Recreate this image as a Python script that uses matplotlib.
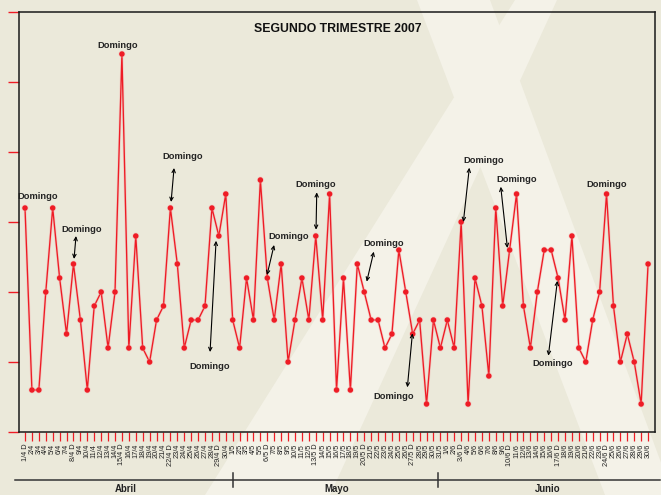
import matplotlib
matplotlib.use('Agg')
import matplotlib.pyplot as plt
from matplotlib.patches import Polygon
from matplotlib.transforms import blended_transform_factory
import matplotlib.patheffects as pe

plt.rcParams['font.family'] = ['Liberation Sans', 'DejaVu Sans']

# ---------------- data ----------------
months = ["Abril", "Mayo", "Junio"]
month_num = [4, 5, 6]
month_len = [30, 31, 30]
sunday_mark = " D"

abril = [16, 3, 3, 10, 16, 11, 7, 12, 8, 3, 9, 10, 6, 10, 27, 6, 14, 6, 5, 8,
         9, 16, 12, 6, 8, 8, 9, 16, 14, 17]
mayo = [8, 6, 11, 8, 18, 11, 8, 12, 5, 8, 11, 8, 14, 8, 17, 3, 11, 3, 12, 10,
        8, 8, 6, 7, 13, 10, 7, 8, 2, 8, 6]
junio = [8, 6, 15, 2, 11, 9, 4, 16, 9, 13, 17, 9, 6, 10, 13, 13, 11, 8, 14, 6,
         5, 8, 10, 17, 9, 5, 7, 5, 2, 12]
values = abril + mayo + junio

# tick labels (1 April 2007 was a Sunday)
labels = []
k = 0
for m, n in zip(month_num, month_len):
    for d in range(1, n + 1):
        lab = f"{d}/{m}"
        if k % 7 == 0:
            lab += sunday_mark
        labels.append(lab)
        k += 1

title = "SEGUNDO TRIMESTRE 2007"
note = "Domingo"
# annotation layout: (day index, text offset dx, dy, arrow tail offset, arrow head offset)
ann_layout = [
    (0, 1.88, 0.79, None, None),
    (7, 1.24, 2.5, (0.37, 2.0), (0.08, 0.36)),
    (14, -0.56, 0.64, None, None),
    (21, 1.83, 3.71, (0.53, 2.86), (0.1, 0.43)),
    (28, -1.27, -9.29, (-1.27, -8.29), (-0.4, -0.34)),
    (35, 3.1, 2.93, (0.98, 2.36), (-0.04, 0.21)),
    (42, -0.01, 3.71, (0.14, 3.12), (0.04, 0.45)),
    (49, 2.76, 3.43, (1.38, 2.88), (0.36, 0.74)),
    (56, -2.69, -4.48, (-0.77, -3.81), (-0.04, 0.05)),
    (63, 3.21, 4.36, (1.18, 3.88), (0.32, 0.0)),
    (70, 1.03, 5.07, (-1.28, 4.52), (-0.32, 0.14)),
    (77, -0.82, -6.1, (-1.4, -5.55), (-0.1, -0.2)),
    (84, 0.02, 0.66, None, None),
]

# ---------------- figure ----------------
W, H = 661, 495
bg = '#EBE9DA'
light = '#F4F2E8'
fig = plt.figure(figsize=(W / 100, H / 100), dpi=100, facecolor=bg)

def fpt(x, y):
    return (x / W, 1 - y / H)

bands = [
    [(417, 0), (490, 0), (673, 495), (605, 495)],
    [(515, 0), (557, 0), (330, 495), (205, 495)],
]
for b in bands:
    p = Polygon([fpt(*q) for q in b], closed=True, transform=fig.transFigure,
                facecolor=light, edgecolor='none', zorder=-5)
    fig.add_artist(p)

ax = fig.add_axes([19 / W, (H - 432) / H, 636 / W, 420 / H])
ax.set_facecolor('none')

x = list(range(len(values)))
red = '#EE1C25'
ax.plot(x, values, color=red, lw=0.95, marker='o', ms=2.9, mec=red, mfc=red,
        path_effects=[pe.Stroke(linewidth=2.0, foreground='#F4A8A8', alpha=0.45), pe.Normal()],
        zorder=3)

ax.set_xlim(-0.867, 91.0)
ax.set_ylim(0, 30)
ax.set_yticks(range(0, 31, 5))
ax.tick_params(axis='y', color=red, length=8, width=1, direction='out', labelleft=False)
ax.set_xticks(x)
ax.set_xticklabels(labels, rotation=90, fontsize=5.3, color='#222222')
ax.tick_params(axis='x', color=red, length=6.5, width=0.9, direction='out', pad=2)
for s in ax.spines.values():
    s.set_color('#1a1a1a')
    s.set_linewidth(1.1)

# annotations
for day, tdx, tdy, tail, head in ann_layout:
    v = values[day]
    ax.text(day + tdx, v + tdy, note, ha='center', va='center', fontsize=6.7,
            fontweight='bold', color='#222222', zorder=5)
    if tail is not None:
        ax.annotate('', xy=(day + head[0], v + head[1]), xytext=(day + tail[0], v + tail[1]),
                    arrowprops=dict(arrowstyle='<->,head_length=0.25,head_width=0.12',
                                    color='black', lw=0.8, shrinkA=0, shrinkB=0),
                    zorder=5)

fig.text(338 / W, 1 - 29 / H, title, ha='center', va='center', fontsize=8.8,
         fontweight='bold', color='#111111')

# month bar
tr = blended_transform_factory(ax.transData, fig.transFigure)
ax.plot([(15 - 25) / 6.922, (660 - 25) / 6.922], [1 - 480 / H] * 2, color='#333333',
        lw=1.1, transform=tr, clip_on=False)
start = 0
bounds = [30.0, 59.7]
for b in bounds:
    ax.plot([b, b], [1 - 473 / H, 1 - 487 / H], color='#333333', lw=1.1,
            transform=tr, clip_on=False)
for name, n in zip(months, month_len):
    mid = start + (n - 1) / 2
    ax.text(mid, 1 - 489 / H, name, transform=tr, ha='center', va='center',
            fontsize=6.9, fontweight='bold', color='#222222')
    start += n

fig.savefig('out.png', dpi=100, facecolor=bg)
